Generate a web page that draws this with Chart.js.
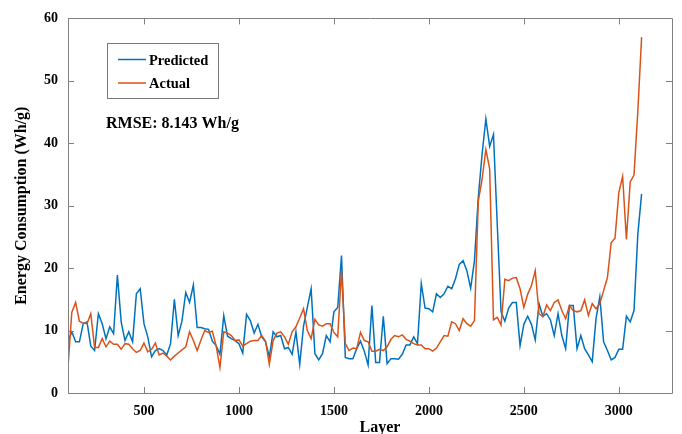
<!DOCTYPE html>
<html><head><meta charset="utf-8">
<script src="https://cdn.jsdelivr.net/npm/chart.js@4.4.0/dist/chart.umd.min.js"></script>
<style>html,body{margin:0;padding:0;background:#fff;}#wrap{width:682px;height:434px;position:relative;}</style>
</head><body><div id="wrap"><canvas id="c" width="682" height="434"></canvas></div>
<script>
const layers = [100,120,140,160,180,200,220,240,260,280,300,320,340,360,380,400,420,440,460,480,500,520,540,560,580,600,620,640,660,680,700,720,740,760,780,800,820,840,860,880,900,920,940,960,980,1000,1020,1040,1060,1080,1100,1120,1140,1160,1180,1200,1220,1240,1260,1280,1300,1320,1340,1360,1380,1400,1420,1440,1460,1480,1500,1520,1540,1560,1580,1600,1620,1640,1660,1680,1700,1720,1740,1760,1780,1800,1820,1840,1860,1880,1900,1920,1940,1960,1980,2000,2020,2040,2060,2080,2100,2120,2140,2160,2180,2200,2220,2240,2260,2280,2300,2320,2340,2360,2380,2400,2420,2440,2460,2480,2500,2520,2540,2560,2580,2600,2620,2640,2660,2680,2700,2720,2740,2760,2780,2800,2820,2840,2860,2880,2900,2920,2940,2960,2980,3000,3020,3040,3060,3080,3100,3120];
const predicted = [8.2,9.8,8.2,8.2,11.1,11.4,7.5,6.8,12.7,11.1,
 8.7,10.6,9.5,18.9,11.4,8.4,9.8,8.2,15.9,16.7,
 11.1,9.0,5.8,6.8,7.1,6.8,6.1,7.9,15.0,9.2,
 11.5,16.1,14.5,17.3,10.5,10.5,10.3,10.2,8.3,7.6,
 6.2,12.4,9.1,8.7,8.4,7.9,6.4,12.6,11.6,9.6,
 11.0,9.0,8.2,5.8,9.8,9.0,9.2,7.1,7.3,6.2,
 9.8,4.6,10.7,13.7,16.7,6.3,5.3,6.3,9.2,8.2,
 13.0,13.7,22.0,5.7,5.5,5.5,7.1,8.3,6.7,4.5,
 14.0,4.9,4.9,12.3,4.7,5.5,5.5,5.4,6.2,7.7,
 7.7,9.0,7.9,17.5,13.6,13.5,13.0,15.9,15.3,15.9,
 17.1,16.7,18.3,20.6,21.2,19.6,16.8,21.2,31.3,38.2,
 43.9,39.5,41.4,27.0,13.0,11.5,13.6,14.5,14.5,7.6,
 11.0,12.3,11.0,8.5,14.3,12.3,12.7,11.7,9.2,12.7,
 9.2,7.1,14.0,14.0,7.1,9.2,7.1,6.1,5.0,11.9,
 15.4,8.2,6.8,5.3,5.7,7.0,7.0,12.3,11.4,13.2,
 25.4,31.9];
const actual = [4.2,12.9,14.5,11.5,11.2,11.1,12.7,7.3,7.3,8.7,
 7.4,8.3,7.8,7.8,7.0,7.9,7.8,7.1,6.5,6.8,
 8.0,6.6,7.0,8.0,6.1,6.4,5.9,5.3,5.9,6.4,
 6.9,7.4,9.8,8.4,6.8,8.5,10.0,9.7,9.9,7.5,
 4.1,9.8,9.6,9.2,8.4,8.5,7.5,7.9,8.3,8.4,
 8.4,9.2,8.3,4.6,8.4,9.6,9.8,9.0,7.8,9.8,
 10.6,12.0,13.5,10.0,8.7,11.8,10.9,10.7,11.1,11.1,
 9.7,9.0,19.6,7.9,6.8,7.2,7.1,9.7,8.4,8.2,
 6.7,6.7,7.0,6.8,7.4,8.6,9.2,9.0,9.3,8.6,
 8.3,7.9,7.7,7.7,7.1,7.1,6.7,7.2,8.2,9.2,
 9.1,11.4,11.1,10.0,11.9,11.1,10.7,11.6,30.7,34.2,
 39.0,35.9,11.7,12.1,10.9,18.2,18.0,18.4,18.5,16.7,
 13.7,15.8,17.2,19.6,12.7,12.2,14.1,13.2,14.5,14.9,
 13.2,11.9,14.0,13.2,13.0,13.2,14.9,12.4,14.3,13.5,
 14.3,16.4,18.5,24.1,24.8,32.1,34.7,24.6,33.8,34.9,
 45.1,57.0];
const xTickValues = [500,1000,1500,2000,2500,3000];
const yTickValues = [0,10,20,30,40,50,60];
const seriesNames = ['Predicted','Actual'];
const rmseText = 'RMSE: 8.143 Wh/g';
const xTitle = 'Layer';
const yTitle = 'Energy Consumption (Wh/g)';

const BLUE = '#0072BD', ORANGE = '#D95319', AXIS = '#808080';
const FONT = "'Liberation Serif','Times New Roman',serif";

const frame = {
  id: 'frame',
  afterDraw(chart) {
    const {ctx, chartArea: a, scales: {x, y}} = chart;
    ctx.save();
    ctx.strokeStyle = AXIS; ctx.lineWidth = 1;
    ctx.beginPath();
    ctx.rect(Math.round(a.left) + 0.5, Math.round(a.top) + 0.5, Math.round(a.right - a.left), Math.round(a.bottom - a.top));
    x.ticks.forEach(t => {
      const p = Math.round(x.getPixelForValue(t.value)) + 0.5;
      ctx.moveTo(p, a.bottom); ctx.lineTo(p, a.bottom - 6);
      ctx.moveTo(p, a.top); ctx.lineTo(p, a.top + 6);
    });
    y.ticks.forEach(t => {
      const p = Math.round(y.getPixelForValue(t.value)) + 0.5;
      ctx.moveTo(a.left, p); ctx.lineTo(a.left + 6, p);
      ctx.moveTo(a.right, p); ctx.lineTo(a.right - 6, p);
    });
    ctx.stroke();
    // legend
    ctx.fillStyle = '#fff';
    ctx.fillRect(108, 44, 110, 54);
    ctx.strokeStyle = '#7a7a7a';
    ctx.strokeRect(107.5, 43.5, 111, 55);
    ctx.lineWidth = 1.5;
    ctx.strokeStyle = BLUE; ctx.beginPath(); ctx.moveTo(118, 59.5); ctx.lineTo(146, 59.5); ctx.stroke();
    ctx.strokeStyle = ORANGE; ctx.beginPath(); ctx.moveTo(118, 83); ctx.lineTo(146, 83); ctx.stroke();
    ctx.fillStyle = '#000';
    ctx.font = 'bold 14.5px ' + FONT;
    ctx.textAlign = 'left'; ctx.textBaseline = 'alphabetic';
    ctx.fillText(seriesNames[0], 149, 64.5);
    ctx.fillText(seriesNames[1], 149, 88);
    ctx.font = 'bold 16px ' + FONT;
    ctx.fillText(rmseText, 106, 127.5);
    // axis titles
    ctx.font = 'bold 16px ' + FONT;
    ctx.textAlign = 'center';
    ctx.fillText(xTitle, 380, 432);
    ctx.translate(26, (a.top + a.bottom) / 2);
    ctx.rotate(-Math.PI / 2);
    ctx.fillText(yTitle, 0, 0);
    ctx.restore();
  }
};

new Chart(document.getElementById('c'), {
  type: 'line',
  data: {
    datasets: [
      {label: seriesNames[0], data: layers.map((l, i) => ({x: l, y: predicted[i]})), borderColor: BLUE, borderWidth: 1.5, pointRadius: 0, tension: 0, fill: false, order: 2},
      {label: seriesNames[1], data: layers.map((l, i) => ({x: l, y: actual[i]})), borderColor: ORANGE, borderWidth: 1.5, pointRadius: 0, tension: 0, fill: false, order: 1}
    ]
  },
  options: {
    responsive: false, animation: false, devicePixelRatio: 1,
    layout: {padding: {top: 16, right: 10, left: 0, bottom: 0}},
    plugins: {legend: {display: false}, tooltip: {enabled: false}},
    scales: {
      x: {
        type: 'linear', min: 100, max: 3280,
        afterBuildTicks: s => { s.ticks = xTickValues.map(v => ({value: v})); },
        afterFit: s => { s.height = 41; },
        grid: {display: false, drawTicks: false}, border: {display: false},
        ticks: {padding: 10, color: '#000', font: {family: FONT, weight: 'bold', size: 14}, maxRotation: 0, autoSkip: false, callback: v => String(v)}
      },
      y: {
        min: 0, max: 60,
        afterBuildTicks: s => { s.ticks = yTickValues.map(v => ({value: v})); },
        afterFit: s => { s.width = 68; },
        grid: {display: false, drawTicks: false}, border: {display: false},
        ticks: {padding: 10, color: '#000', font: {family: FONT, weight: 'bold', size: 14}, callback: v => String(v)}
      }
    }
  },
  plugins: [frame]
});
</script></body></html>
